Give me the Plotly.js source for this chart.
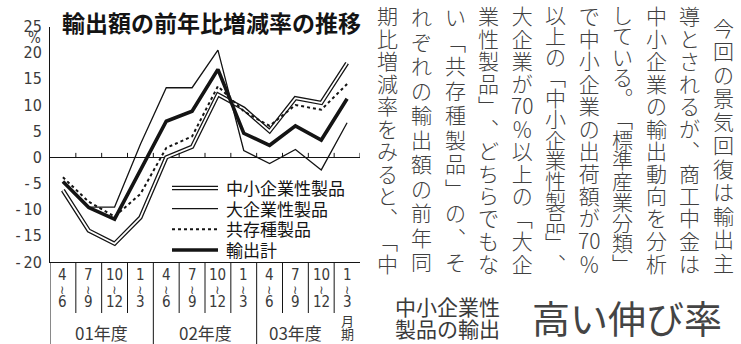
<!DOCTYPE html>
<html><head><meta charset="utf-8">
<script src="https://cdn.plot.ly/plotly-3.0.1.min.js"></script>
<style>html,body{margin:0;padding:0;background:#fff;}#chart{width:741px;height:344px;}</style>
</head><body><div id="chart"></div>
<script>
// ---- data ----
const quarterStart = ['4','7','10','1','4','7','10','1','4','7','10','1'];
const quarterEnd   = ['6','9','12','3','6','9','12','3','6','9','12','3'];
const fiscalYears  = ['01年度','02年度','03年度'];
const lastPeriodSuffix = ['月','期'];
const seriesNames = ['中小企業性製品','大企業性製品','共存種製品','輸出計'];
const smeProducts     = [-6.3, -14.0, -16.5, -11.5, 0.0, 2.0, 12.0, 9.3, 5.0, 11.3, 10.4, 18.0];
const largeProducts   = [-4.8, -9.5, -9.5, 2.5, 13.3, 13.3, 20.5, 1.3, -1.2, 1.5, -2.4, 6.6];
const coexistProducts = [-3.8, -8.5, -11.3, -7.0, 1.8, 4.0, 13.6, 8.8, 6.0, 10.0, 9.1, 14.0];
const totalExports    = [-4.6, -9.6, -11.8, -2.5, 6.9, 8.8, 16.8, 4.6, 2.3, 6.0, 3.3, 11.2];
const yTicks = [-20, -15, -10, -5, 0, 5, 10, 15, 20, 25];
const chartTitle = '輸出額の前年比増減率の推移';
const unitLabel = '%';
const bodyColumns = [
  '　今回の景気回復は輸出主',
  '導とされるが︑商工中金は',
  '中小企業の輸出動向を分析',
  'している︒﹁標準産業分類﹂',
  'で中小企業の出荷額が70％',
  '以上の﹁中小企業性製品﹂︑',
  '大企業が70％以上の﹁大企',
  '業性製品﹂︑どちらでもな',
  'い﹁共存種製品﹂の︑そ',
  'れぞれの輸出額の前年同',
  '期比増減率をみると︑﹁中'
];
const headlineSmall = ['中小企業性', '製品の輸出'];
const headlineLarge = '高い伸び率';

// ---- helpers ----
const W = 741, H = 344;
const px = x => x / W;
const py = y => 1 - y / H;
const idx = quarterStart.map((_, i) => i);
const INK = '#141414';
const TXT = '#3a3a3a';
const numFont = 'Liberation Sans Narrow, DejaVu Sans Condensed, Liberation Sans, sans-serif';
const jpFont = 'Noto Sans CJK JP, sans-serif';
const LS = 1.3; // plotly line spacing (em)
// stack lines with a chosen pitch: base font sets pitch, spans set glyph size
function stack(lines, pitch, size, fam) {
  const st = 'font-size:' + size + 'px' + (fam ? ';font-family:' + fam : '');
  return {text: lines.map(t => '<span style="' + st + '">' + t + '</span>').join('<br>'), base: pitch / LS};
}

const traces = [
  {x: idx, y: smeProducts, mode: 'lines', line: {color: INK, width: 4.4}, hoverinfo: 'skip', showlegend: false},
  {x: idx, y: smeProducts, mode: 'lines', line: {color: '#fff', width: 1.8}, hoverinfo: 'skip', showlegend: false},
  {x: idx, y: coexistProducts, mode: 'lines', line: {color: INK, width: 2, dash: 'dot'}, hoverinfo: 'skip', showlegend: false},
  {x: idx, y: largeProducts, mode: 'lines', line: {color: INK, width: 1.3}, hoverinfo: 'skip', showlegend: false},
  {x: idx, y: totalExports, mode: 'lines', line: {color: INK, width: 3.6}, hoverinfo: 'skip', showlegend: false}
];

const shapes = [];
const annotations = [];
function note(o) {
  annotations.push(Object.assign({showarrow: false, xanchor: 'center', yanchor: 'middle', borderpad: 0}, o));
}

// zero-line small upward ticks at quarter boundaries
for (let i = 0; i < idx.length; i++) {
  shapes.push({type: 'line', xref: 'x', yref: 'y', x0: i + 0.5, x1: i + 0.5, y0: 0, y1: 0.85, line: {color: INK, width: 1}});
}
// category separators below the axis
for (let i = 0; i < idx.length - 1; i++) {
  const yearEnd = (i % 4) === 3;
  shapes.push({type: 'line', xref: 'x', yref: 'paper', x0: i + 0.5, x1: i + 0.5,
    y0: py(262), y1: yearEnd ? py(344) : py(313), line: {color: INK, width: 1}});
}
shapes.push({type: 'line', xref: 'x', yref: 'paper', x0: -0.5, x1: -0.5, y0: py(262), y1: py(344), line: {color: INK, width: 1}});

// quarter tick labels: one stacked annotation per quarter
idx.forEach(i => {
  const lines = [
    '<span style="font-size:15px">' + quarterStart[i] + '</span>',
    '<span style="font-size:12px;font-family:DejaVu Sans">≀</span>',
    '<span style="font-size:15px">' + quarterEnd[i] + '</span>'
  ];
  note({xref: 'x', yref: 'paper', x: i, y: py(288.5), text: lines.join('<br>'),
    font: {family: numFont, size: 13.5 / LS, color: TXT}});
});
{
  const s = stack(lastPeriodSuffix, 13, 13);
  note({xref: 'x', yref: 'paper', x: idx.length - 1, y: py(327), text: s.text, font: {family: jpFont, size: s.base, color: TXT}});
}
// fiscal-year labels
fiscalYears.forEach((t, k) => {
  const cx = k < fiscalYears.length - 1 ? k * 4 + 1.5 : k * 4 + 1.0;
  note({xref: 'x', yref: 'paper', x: cx, y: py(332.5), text: t, height: 19,
    font: {family: jpFont, size: 17, color: TXT}});
});

// title and unit
note({xref: 'paper', yref: 'paper', x: px(212), y: py(22), text: '<b>' + chartTitle + '</b>',
  font: {family: jpFont, size: 23, color: INK}});
note({xref: 'paper', yref: 'paper', x: px(34), y: py(38.5), text: unitLabel,
  font: {family: numFont, size: 15, color: TXT}});

// legend (drawn by hand to reproduce the double line)
const legY = [188, 208.7, 229.3, 250];
const lx0 = 172, lx1 = 218, ltx = 225;
const legStyles = [
  [{color: INK, width: 4.4}, {color: '#fff', width: 1.8}],
  [{color: INK, width: 1.3}],
  [{color: INK, width: 2, dash: 'dot'}],
  [{color: INK, width: 3.6}]
];
seriesNames.forEach((name, k) => {
  legStyles[k].forEach(st => shapes.push({type: 'line', xref: 'paper', yref: 'paper', x0: px(lx0), x1: px(lx1), y0: py(legY[k]), y1: py(legY[k]), line: st}));
});
{
  const s = stack(seriesNames, legY[1] - legY[0], 17);
  note({xref: 'paper', yref: 'paper', x: px(ltx), y: py((legY[0] + legY[3]) / 2 - 1), text: s.text, xanchor: 'left', align: 'left',
    font: {family: jpFont, size: s.base, color: INK}});
}

// vertical body text: one stacked annotation per column
function tokenize(s) {
  const out = [];
  const chars = Array.from(s);
  for (let i = 0; i < chars.length; i++) {
    if (/[0-9]/.test(chars[i]) && out.length && /^[0-9]+$/.test(out[out.length - 1])) out[out.length - 1] += chars[i];
    else out.push(chars[i]);
  }
  return out;
}
const colTop = 5, colBottom = 275, bodySize = 21;
bodyColumns.forEach((col, c) => {
  let toks = tokenize(col);
  let lead = 0;
  if (toks[0] === '　') { toks = toks.slice(1); lead = 0.5; }
  const pitch = (colBottom - colTop) / (toks.length + lead);
  const first = colTop + lead * pitch + pitch / 2;
  const last = first + (toks.length - 1) * pitch;
  const s = stack(toks, pitch, bodySize);
  note({xref: 'paper', yref: 'paper', x: px(723 - c * 33.5), y: py((first + last) / 2 - 1.2), text: s.text,
    font: {family: jpFont, size: s.base, color: '#404040', weight: 300}});
});

// headline
{
  const s = stack(headlineSmall, 21.5, 21);
  note({xref: 'paper', yref: 'paper', x: px(447), y: py(317), text: s.text, font: {family: jpFont, size: s.base, color: TXT}});
}
note({xref: 'paper', yref: 'paper', x: px(627), y: py(316.5), text: headlineLarge,
  font: {family: jpFont, size: 38, color: '#444'}});

const layout = {
  width: W, height: H,
  margin: {l: 0, r: 0, t: 0, b: 0, pad: 0},
  paper_bgcolor: '#fff', plot_bgcolor: 'rgba(0,0,0,0)',
  showlegend: false,
  font: {family: jpFont, color: TXT},
  xaxis: {domain: [px(50), px(360)], range: [-0.5, 11.5], showline: true, linecolor: INK, linewidth: 1,
    showticklabels: false, ticks: '', showgrid: false, zeroline: false, fixedrange: true},
  yaxis: {domain: [py(262), py(26.5)], range: [-20, 25], showline: true, linecolor: INK, linewidth: 1,
    tickvals: yTicks, ticktext: yTicks.map(v => v < 0 ? '-\u2009' + Math.abs(v) : String(v)),
    tickfont: {family: numFont, size: 16, color: TXT}, ticks: '', ticklabelstandoff: 4,
    showgrid: false, zeroline: true, zerolinecolor: INK, zerolinewidth: 1, fixedrange: true},
  shapes: shapes,
  annotations: annotations
};

Plotly.newPlot('chart', traces, layout, {staticPlot: true, displayModeBar: false});
</script></body></html>
